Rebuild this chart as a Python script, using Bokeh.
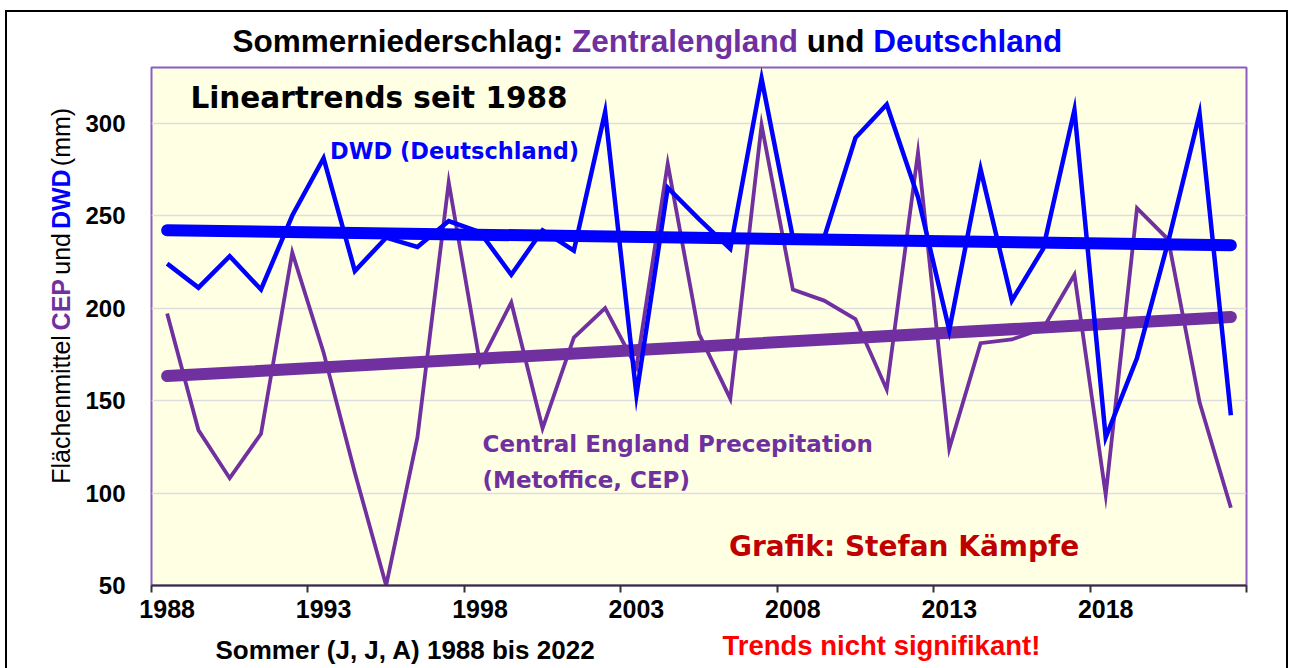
import math
from bokeh.plotting import figure
from bokeh.models import Range1d, LinearAxis, FixedTicker, Grid
from bokeh.layouts import column, row
from bokeh.core.properties import value
from bokeh.embed import file_html
from bokeh.resources import INLINE

# ---------------- data ----------------
years = list(range(1988, 2023))
cep = [197, 134, 108, 132, 230, 176, 111, 50, 130, 268,
       170, 203, 135, 184, 200, 168, 278, 186, 151, 299,
       210, 204, 194, 156, 284, 124, 181, 183, 189, 218,
       99, 254, 237, 149, 92]
dwd = [224, 211, 228, 210, 250, 281, 220, 238, 233, 247,
       241, 218, 242, 231, 306, 153, 265, 248, 232, 324,
       238, 238, 292, 310, 260, 188, 275, 204, 232, 307,
       130, 173, 236, 305, 142]
trend_years = [1988, 2022]
cep_trend = [163.2, 195.1]
dwd_trend = [242.0, 233.9]
y_ticks = [50, 100, 150, 200, 250, 300]
x_label_years = [1988, 1993, 1998, 2003, 2008, 2013, 2018]

PURPLE = "#7030A0"
BLUE = "#0000FF"

# ---------------- layout geometry (page px) ----------------
W, H = 1290, 668
TOP_H = 63          # title strip
MID_H = 565         # main row
BOT_H = H - TOP_H - MID_H
L_W = 82            # y-label strip
M_W = W - L_W


def blank(w, h, x0, y0):
    f = figure(width=w, height=h, x_range=Range1d(x0, x0 + w), y_range=Range1d(y0 + h, y0),
               output_backend="svg", toolbar_location=None,
               x_axis_type=None, y_axis_type=None, min_border=0)
    f.outline_line_color = None
    f.background_fill_color = None
    f.border_fill_color = None
    return f


def txt(f, s, x, y, color, size, font="Liberation Sans", style="bold", angle=0.0, align="left"):
    f.text(x=[x], y=[y], text=[s], text_color=color, text_font=value(font),
           text_font_style=style, text_font_size=value(f"{size}px"),
           text_align=align, text_baseline="middle", angle=angle)


# ---------------- title strip ----------------
T = blank(W, TOP_H, 0, 0)
txt(T, "Sommerniederschlag:", 232, 40, "black", 31.5)
txt(T, "Zentralengland", 571.6, 40, PURPLE, 31.5)
txt(T, "und", 806.2, 40, "black", 31.5)
txt(T, "Deutschland", 872.7, 40, BLUE, 31.5)

# ---------------- y-label strip ----------------
L = blank(L_W, MID_H, 0, TOP_H)
a = math.pi / 2
txt(L, "Flächenmittel", 60, 436, "black", 25, style="normal", angle=a, align="center")
txt(L, "CEP", 60, 321.7, PURPLE, 25, style="bold", angle=a, align="center")
txt(L, "und", 60, 266.3, "black", 25, style="normal", angle=a, align="center")
txt(L, "DWD", 60, 206.7, BLUE, 25, style="bold", angle=a, align="center")
txt(L, "(mm)", 60, 138.8, "black", 25, style="normal", angle=a, align="center")

# ---------------- main chart ----------------
X0, X1 = 1987.5, 2022.5
Y0, Y1 = 50, 330
FL, FR, FT, FB = 148, 1246, 67, 585  # frame in page px

p = figure(width=M_W, height=MID_H, x_range=Range1d(X0, X1), y_range=Range1d(Y0, Y1),
           output_backend="svg", toolbar_location=None,
           x_axis_type=None, y_axis_type=None,
           min_border_left=FL - L_W, min_border_right=L_W + M_W - FR,
           min_border_top=FT - TOP_H, min_border_bottom=TOP_H + MID_H - FB)
p.background_fill_color = "#FFFFE4"
p.border_fill_color = None
p.outline_line_color = "#8E5CC0"
p.outline_line_width = 2


def px2x(px):
    return X0 + (px - FL) * (X1 - X0) / (FR - FL)


def px2y(py):
    return Y0 + (FB - py) * (Y1 - Y0) / (FB - FT)


yax = LinearAxis(ticker=FixedTicker(ticks=y_ticks))
yax.axis_line_color = None
yax.major_tick_line_color = None
yax.minor_tick_line_color = None
yax.major_label_standoff = 20
yax.major_label_text_font = "Liberation Sans"
yax.major_label_text_font_style = "bold"
yax.major_label_text_font_size = "24px"
yax.major_label_text_color = "black"
p.add_layout(yax, "left")

p.add_layout(Grid(dimension=1, ticker=FixedTicker(ticks=y_ticks[1:]),
                  grid_line_color="#DDDDDD", grid_line_width=1.5))

tick_pos = [X0 + 5 * k for k in range(8)]
xax1 = LinearAxis(ticker=FixedTicker(ticks=tick_pos))
xax1.major_label_overrides = {t: "" for t in tick_pos}
xax1.major_label_text_font_size = "1px"
xax1.major_label_standoff = 0
xax1.axis_line_color = "#333333"
xax1.axis_line_width = 2
xax1.major_tick_line_color = "#333333"
xax1.major_tick_line_width = 2
xax1.major_tick_out = 7
xax1.major_tick_in = 0
xax1.minor_tick_line_color = None
p.add_layout(xax1, "below")

xax2 = LinearAxis(ticker=FixedTicker(ticks=x_label_years))
xax2.axis_line_color = None
xax2.major_tick_line_color = None
xax2.minor_tick_line_color = None
xax2.major_tick_out = 0
xax2.major_tick_in = 0
xax2.major_label_standoff = 7
xax2.major_label_text_font = "Liberation Sans"
xax2.major_label_text_font_style = "bold"
xax2.major_label_text_font_size = "25px"
xax2.major_label_text_color = "black"
p.add_layout(xax2, "below")

p.line(trend_years, cep_trend, line_color=PURPLE, line_width=12, line_cap="round")
p.line(years, cep, line_color=PURPLE, line_width=3.8, line_join="miter")
p.line(years, dwd, line_color=BLUE, line_width=4.5, line_join="miter")
p.line(trend_years, dwd_trend, line_color=BLUE, line_width=12, line_cap="round")


def ptxt(s, px, py, color, size, font="DejaVu Sans"):
    p.text(x=[px2x(px)], y=[px2y(py)], text=[s], text_color=color, text_font=value(font),
           text_font_style="bold", text_font_size=value(f"{size}px"),
           text_align="left", text_baseline="middle")


ptxt("Lineartrends seit 1988", 187, 97, "black", 29.5)
ptxt("DWD (Deutschland)", 327, 150, BLUE, 22.5)
ptxt("Central England Precepitation", 480, 443, PURPLE, 23)
ptxt("(Metoffice, CEP)", 480, 479, PURPLE, 23)
ptxt("Grafik: Stefan Kämpfe", 727, 546, "#C00000", 28)

# ---------------- bottom strip ----------------
B = blank(W, BOT_H, 0, TOP_H + MID_H)
txt(B, "Sommer (J, J, A) 1988 bis 2022", 215, 649, "black", 26)
txt(B, "Trends nicht signifikant!", 722, 645, "#FF0000", 27.5)

layout = column(T, row(L, p), B)
# outer black frame (left, top, right edges), painted behind the transparent canvases
layout.styles = {
    "background": ("linear-gradient(#000,#000) 5px 10px / 2px 658px no-repeat, "
                   "linear-gradient(#000,#000) 5px 10px / 1283px 2px no-repeat, "
                   "linear-gradient(#000,#000) 1286px 10px / 2px 658px no-repeat, #ffffff"),
}
open("out.html", "w").write(file_html(layout, INLINE))
